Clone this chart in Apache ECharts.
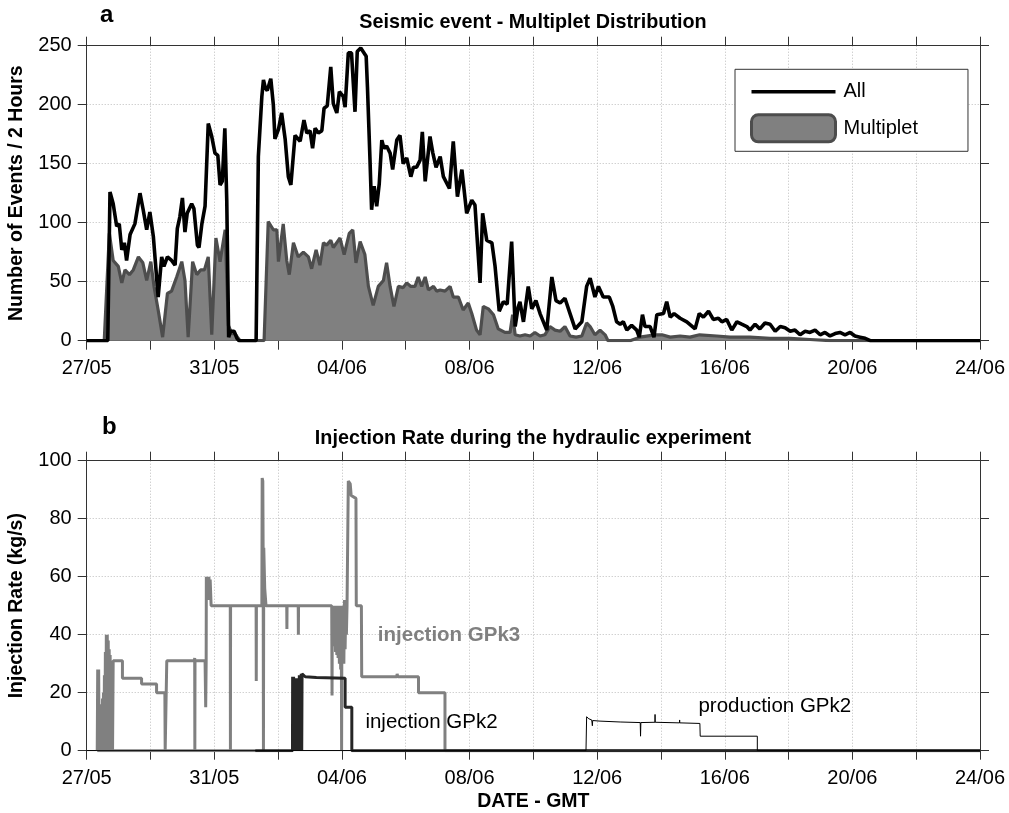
<!DOCTYPE html>
<html>
<head>
<meta charset="utf-8">
<script src="https://cdn.jsdelivr.net/npm/echarts@6/dist/echarts.min.js"></script>
<style>
  html, body { margin: 0; padding: 0; background: #fff; }
  #chart { width: 1009px; height: 813px; }
</style>
</head>
<body>
<div id="chart"></div>
<script>
// Time is expressed in days since 27/05 00:00 GMT.
const dateTicks = ['27/05', '31/05', '04/06', '08/06', '12/06', '16/06', '20/06', '24/06'];

// Panel a: number of events per 2-hour bin, all events
const allEvents = [
  [0, 0], [0.66, 0], [0.68, 0], [0.73, 126], [0.83, 116], [0.94, 97], [1.02, 99], [1.10, 77],
  [1.18, 83], [1.25, 68], [1.36, 90], [1.51, 99], [1.67, 125], [1.77, 111], [1.88, 94],
  [1.98, 109], [2.09, 88], [2.24, 37], [2.35, 71], [2.42, 63], [2.53, 71], [2.66, 68],
  [2.77, 64], [2.84, 95], [2.92, 105], [3.00, 121], [3.08, 92], [3.15, 108], [3.29, 116],
  [3.36, 112], [3.47, 81], [3.52, 79], [3.61, 99], [3.71, 114], [3.81, 184], [3.92, 173],
  [4.02, 159], [4.11, 157], [4.18, 132], [4.25, 135], [4.33, 180], [4.39, 119], [4.45, 3],
  [4.51, 8], [4.62, 8], [4.71, 2], [4.77, 0], [5.31, 0], [5.38, 156], [5.49, 207],
  [5.54, 221], [5.60, 214], [5.66, 212], [5.77, 222], [5.85, 200], [5.90, 171], [6.01, 179],
  [6.11, 193], [6.22, 171], [6.32, 139], [6.40, 132], [6.53, 174], [6.69, 169], [6.81, 187],
  [6.90, 176], [7.00, 178], [7.08, 163], [7.16, 180], [7.26, 176], [7.37, 178], [7.44, 197],
  [7.54, 199], [7.65, 232], [7.73, 201], [7.84, 193], [7.92, 211], [8.04, 207], [8.10, 198],
  [8.20, 244], [8.30, 244], [8.41, 194], [8.48, 245], [8.59, 248], [8.76, 241], [8.80, 215],
  [8.88, 153], [8.93, 111], [9.01, 131], [9.09, 114], [9.17, 133], [9.25, 170], [9.32, 163],
  [9.40, 165], [9.51, 159], [9.59, 145], [9.72, 170], [9.82, 174], [9.92, 150], [10.03, 155],
  [10.16, 139], [10.24, 147], [10.34, 147], [10.45, 153], [10.52, 177], [10.61, 135],
  [10.76, 173], [10.85, 159], [10.95, 147], [11.08, 156], [11.18, 139], [11.37, 129],
  [11.49, 169], [11.62, 122], [11.76, 145], [11.91, 108], [12.07, 119], [12.17, 115],
  [12.33, 49], [12.41, 108], [12.54, 85], [12.70, 83], [12.80, 63], [12.93, 25], [13.06, 33],
  [13.18, 31], [13.32, 84], [13.43, 12], [13.52, 28], [13.58, 33], [13.69, 16], [13.84, 46],
  [13.95, 27], [14.08, 34], [14.21, 23], [14.42, 9], [14.58, 54], [14.71, 34], [14.84, 32],
  [14.99, 36], [15.15, 23], [15.31, 10], [15.52, 16], [15.67, 46], [15.78, 53], [15.93, 37],
  [16.04, 46], [16.19, 37], [16.38, 37], [16.49, 29], [16.61, 16], [16.72, 14], [16.82, 16],
  [16.93, 9], [17.08, 13], [17.24, 9], [17.32, 3], [17.42, 22], [17.50, 12], [17.66, 12],
  [17.78, 3], [17.87, 22], [18.08, 23], [18.18, 33], [18.29, 20], [18.41, 23], [18.60, 19],
  [18.81, 16], [19.07, 10], [19.20, 23], [19.33, 20], [19.49, 25], [19.64, 18], [19.80, 19],
  [19.91, 16], [20.06, 18], [20.22, 9], [20.38, 16], [20.53, 14], [20.69, 12], [20.79, 9],
  [20.95, 14], [21.10, 10], [21.26, 15], [21.42, 14], [21.58, 8], [21.74, 12], [21.89, 11],
  [22.05, 8], [22.20, 9], [22.36, 5], [22.52, 8], [22.67, 7], [22.83, 9], [22.99, 5],
  [23.14, 7], [23.30, 4], [23.46, 6], [23.61, 7], [23.77, 5], [23.93, 7], [24.08, 4],
  [24.24, 3], [24.40, 2], [24.56, 0], [28, 0]
];

// Panel a: events belonging to multiplets
const multipletEvents = [
  [0.55, 0], [0.71, 91], [0.83, 68], [0.99, 63], [1.10, 49], [1.20, 60], [1.34, 56],
  [1.46, 60], [1.62, 71], [1.76, 66], [1.88, 51], [2.01, 67], [2.11, 46], [2.24, 26],
  [2.38, 3], [2.53, 40], [2.66, 42], [2.82, 54], [2.98, 67], [3.08, 51], [3.18, 3],
  [3.32, 67], [3.45, 56], [3.57, 60], [3.69, 60], [3.81, 71], [3.92, 5], [4.05, 87],
  [4.18, 67], [4.34, 94], [4.44, 13], [4.55, 6], [4.65, 6], [4.75, 2], [4.81, 0],
  [5.56, 0], [5.69, 101], [5.85, 94], [5.96, 94], [6.01, 67], [6.16, 99], [6.27, 68],
  [6.35, 56], [6.48, 83], [6.63, 71], [6.79, 75], [6.95, 71], [7.05, 61], [7.19, 77],
  [7.31, 64], [7.42, 83], [7.52, 81], [7.65, 85], [7.73, 79], [7.86, 84], [7.94, 87],
  [8.07, 73], [8.23, 91], [8.34, 94], [8.44, 66], [8.57, 84], [8.72, 73], [8.83, 46],
  [8.98, 30], [9.14, 46], [9.30, 51], [9.40, 66], [9.51, 46], [9.63, 29], [9.77, 46],
  [9.92, 45], [10.03, 49], [10.16, 46], [10.29, 46], [10.39, 54], [10.50, 46], [10.61, 54],
  [10.71, 43], [10.87, 46], [10.97, 42], [11.08, 43], [11.23, 42], [11.39, 46], [11.49, 37],
  [11.65, 37], [11.80, 26], [11.96, 32], [12.07, 23], [12.22, 9], [12.33, 5], [12.43, 29],
  [12.59, 27], [12.75, 22], [12.90, 10], [12.96, 9], [13.11, 7], [13.27, 7], [13.35, 22],
  [13.43, 5], [13.58, 4], [13.74, 5], [13.90, 4], [14.05, 7], [14.21, 4], [14.36, 5],
  [14.52, 12], [14.68, 9], [14.84, 8], [14.99, 12], [15.15, 4], [15.34, 3], [15.52, 4],
  [15.67, 15], [15.78, 12], [15.93, 5], [16.09, 9], [16.25, 5], [16.34, 0], [17.03, 0],
  [17.34, 3], [17.81, 5], [18.03, 5], [18.29, 3], [18.60, 4], [18.91, 3], [19.21, 5],
  [19.75, 4], [20.17, 3], [20.79, 3], [21.42, 2], [22.05, 2], [22.67, 1], [23.30, 0], [28, 0]
];

// Panel b: injection rate in GPK3 (kg/s); the null entry ends the idle baseline segment
const gpk3Rate = [
  [0.33, 0], [5.28, 0], [5.28, null],
  [0.33, 0], [0.345, 28], [0.36, 0], [0.375, 28], [0.39, 0], [0.405, 13], [0.42, 0],
  [0.435, 14], [0.45, 0], [0.465, 16], [0.48, 0], [0.495, 18], [0.51, 0], [0.525, 20],
  [0.54, 0], [0.555, 26], [0.57, 0], [0.585, 34], [0.60, 0], [0.615, 40], [0.63, 0],
  [0.645, 40], [0.66, 0], [0.675, 38], [0.69, 0], [0.705, 35], [0.72, 0], [0.735, 33],
  [0.75, 0], [0.765, 31], [0.78, 0], [0.795, 31], [0.81, 0], [0.83, 31],
  [1.12, 31], [1.12, 25], [1.72, 25], [1.72, 23], [2.19, 23], [2.19, 20], [2.45, 20],
  [2.46, 0], [2.50, 0], [2.51, 31], [3.38, 31], [3.385, 32], [3.39, 0], [3.395, 31],
  [3.71, 31], [3.73, 15], [3.745, 31], [3.75, 60], [3.77, 52], [3.79, 60], [3.81, 52],
  [3.83, 60], [3.85, 55], [3.87, 59], [3.90, 50], [4.50, 50], [4.505, 0], [4.51, 50],
  [5.31, 50], [5.315, 24], [5.32, 50], [5.49, 50], [5.50, 94], [5.52, 93], [5.53, 70],
  [5.54, 0], [5.55, 70], [5.58, 56], [5.62, 50], [6.27, 50], [6.275, 42], [6.28, 50],
  [6.63, 50], [6.635, 40], [6.64, 50],
  [7.68, 50], [7.69, 19], [7.70, 50], [7.72, 38], [7.74, 50], [7.76, 36], [7.78, 50],
  [7.80, 34], [7.82, 50], [7.84, 33], [7.86, 50], [7.88, 32], [7.90, 50], [7.92, 30],
  [7.94, 50], [7.96, 28], [7.98, 50], [7.99, 0], [8.00, 50], [8.02, 34], [8.04, 50],
  [8.06, 30], [8.08, 52], [8.10, 35], [8.12, 50], [8.14, 40], [8.16, 50],
  [8.19, 50], [8.20, 93], [8.26, 92], [8.29, 88], [8.44, 87], [8.45, 50], [8.61, 50],
  [8.62, 25.5], [9.72, 25.5], [9.73, 26.5], [9.75, 25.5], [10.40, 25.5], [10.40, 20],
  [11.23, 20], [11.23, 0], [28, 0]
];

// Panel b: injection rate in GPK2 (kg/s)
const gpk2Rate = [
  [5.28, 0], [6.45, 0], [6.455, 25.5], [6.47, 0], [6.485, 25.5], [6.50, 0], [6.515, 25],
  [6.53, 2], [6.545, 25], [6.56, 0], [6.575, 22], [6.59, 5], [6.605, 25], [6.62, 0],
  [6.635, 25], [6.65, 0], [6.665, 26], [6.68, 0], [6.695, 26], [6.71, 0], [6.725, 26.5],
  [6.74, 0], [6.75, 26.5], [6.80, 26.5], [6.85, 25.5], [7.20, 25.2], [8.10, 25],
  [8.10, 15], [8.31, 15], [8.31, 0], [28, 0]
];

// Panel b: production rate from GPK2 (kg/s)
const gpk2Production = [
  [0, 0], [15.65, 0], [15.67, 11.7], [15.74, 11], [15.83, 10.6], [15.85, 8.6], [15.86, 10.4],
  [16.09, 10.2], [16.72, 9.9], [17.35, 9.7], [17.36, 5], [17.37, 9.7], [17.81, 9.8],
  [17.815, 12.5], [17.82, 9.8], [18.58, 9.6], [18.585, 10.6], [18.59, 9.6], [19.22, 9.4],
  [19.23, 5], [21.02, 5], [21.02, 0], [28, 0]
];

// Annotation anchors [day, rate]
const gpk3LabelAt = [9.11, 39.9];
const gpk2LabelAt = [8.72, 9.9];
const productionLabelAt = [19.16, 15.3];

const FONT = "'Liberation Sans', Arial, Helvetica, sans-serif";
const AXIS_COLOR = '#333';
const TICK_FONT = 20;

function dateLabel(v) {
  return v % 4 === 0 ? dateTicks[v / 4] : '';
}

function xAxisFor(grid, position, withLabels, extra) {
  return Object.assign({
    type: 'value', gridIndex: grid, position: position,
    min: 0, max: 28, interval: 2,
    axisLine: { show: true, onZero: false, lineStyle: { color: AXIS_COLOR, width: 1 } },
    axisTick: { show: true, length: 9, lineStyle: { color: AXIS_COLOR } },
    axisLabel: {
      show: withLabels, formatter: dateLabel, margin: 18,
      fontSize: TICK_FONT, color: '#000', fontFamily: FONT
    },
    splitLine: {
      show: withLabels,
      lineStyle: { type: [1, 2], color: '#bdbdbd', width: 1 }
    }
  }, extra || {});
}

function yAxisFor(grid, position, max, step, withLabels, extra) {
  return Object.assign({
    type: 'value', gridIndex: grid, position: position,
    min: 0, max: max, interval: step,
    axisLine: { show: true, onZero: false, lineStyle: { color: AXIS_COLOR, width: 1 } },
    axisTick: { show: true, length: 9, lineStyle: { color: AXIS_COLOR } },
    axisLabel: {
      show: withLabels, margin: 15, fontSize: TICK_FONT, color: '#000', fontFamily: FONT
    },
    splitLine: {
      show: withLabels,
      lineStyle: { type: [1, 2], color: '#bdbdbd', width: 1 }
    }
  }, extra || {});
}

const yNameStyle = { fontSize: 19.5, fontWeight: 'bold', color: '#000', fontFamily: FONT };
const xNameStyle = { fontSize: 19.5, fontWeight: 'bold', color: '#000', fontFamily: FONT };
const titleStyle = { fontSize: 19.8, fontWeight: 'bold', color: '#000', fontFamily: FONT };
const panelLetterStyle = { fontSize: 24, fontWeight: 'bold', color: '#000', fontFamily: FONT };

function textMark(at, text, style) {
  return {
    symbol: 'rect', symbolSize: 1, silent: true,
    itemStyle: { color: 'transparent' },
    label: Object.assign({
      show: true, position: 'right', distance: 0,
      formatter: text, fontFamily: FONT, fontSize: 20.5
    }, style),
    data: [{ coord: at }]
  };
}

const chart = echarts.init(document.getElementById('chart'), null, { renderer: 'canvas' });

chart.setOption({
  animation: false,
  backgroundColor: '#fff',
  title: [
    { text: 'a', left: 100, top: 3, padding: 0, textStyle: panelLetterStyle },
    { text: 'Seismic event - Multiplet Distribution', left: 533, top: 13, padding: 0,
      textAlign: 'center', textStyle: titleStyle },
    { text: 'b', left: 102, top: 415, padding: 0, textStyle: panelLetterStyle },
    { text: 'Injection Rate during the hydraulic experiment', left: 533, top: 429, padding: 0,
      textAlign: 'center', textStyle: titleStyle }
  ],
  legend: {
    orient: 'vertical',
    left: 735, top: 69.3,
    padding: [12.5, 50, 8, 15],
    itemWidth: 84, itemHeight: 27, itemGap: 11.5,
    backgroundColor: '#fff',
    borderColor: '#333', borderWidth: 1, borderRadius: 0,
    selectedMode: false,
    textStyle: { fontSize: 20, color: '#000', fontFamily: FONT, padding: [0, 0, 0, 3] },
    data: [
      { name: 'All', icon: 'path://M0,0 H84 V3.4 H0 Z',
        itemStyle: { color: '#000', borderWidth: 0 } },
      { name: 'Multiplet', icon: 'roundRect',
        itemStyle: { color: '#808080', borderColor: '#4d4d4d', borderWidth: 3 } }
    ]
  },
  grid: [
    { left: 86.7, top: 45.7, width: 893.3, height: 295, containLabel: false, outerBoundsMode: 'none' },
    { left: 86.7, top: 460.7, width: 893.3, height: 290, containLabel: false, outerBoundsMode: 'none' }
  ],
  xAxis: [
    xAxisFor(0, 'bottom', true),
    xAxisFor(0, 'top', false),
    xAxisFor(1, 'bottom', true, {
      name: 'DATE - GMT', nameLocation: 'middle', nameGap: 41, nameTextStyle: xNameStyle
    }),
    xAxisFor(1, 'top', false)
  ],
  yAxis: [
    yAxisFor(0, 'left', 250, 50, true, {
      name: 'Number of Events / 2 Hours', nameLocation: 'middle', nameGap: 60, nameTextStyle: yNameStyle
    }),
    yAxisFor(0, 'right', 250, 50, false),
    yAxisFor(1, 'left', 100, 20, true, {
      name: 'Injection Rate (kg/s)', nameLocation: 'middle', nameGap: 60, nameTextStyle: yNameStyle
    }),
    yAxisFor(1, 'right', 100, 20, false)
  ],
  series: [
    {
      name: 'Multiplet', type: 'line', xAxisIndex: 0, yAxisIndex: 0,
      data: multipletEvents, symbol: 'none', z: 2,
      lineStyle: { color: '#4d4d4d', width: 3.2 },
      itemStyle: { color: '#808080' },
      areaStyle: { color: '#808080', opacity: 1 }
    },
    {
      name: 'All', type: 'line', xAxisIndex: 0, yAxisIndex: 0,
      data: allEvents, symbol: 'none', z: 3,
      lineStyle: { color: '#000', width: 3.6 },
      itemStyle: { color: '#000' }
    },
    {
      name: 'injection GPk3', type: 'line', xAxisIndex: 2, yAxisIndex: 2,
      data: gpk3Rate, symbol: 'none', connectNulls: false, z: 2,
      lineStyle: { color: '#808080', width: 3 },
      itemStyle: { color: '#808080' },
      markPoint: textMark(gpk3LabelAt, 'injection GPk3', { color: '#808080', fontWeight: 'bold' })
    },
    {
      name: 'injection GPk2', type: 'line', xAxisIndex: 2, yAxisIndex: 2,
      data: gpk2Rate, symbol: 'none', z: 3,
      lineStyle: { color: '#262626', width: 3 },
      itemStyle: { color: '#262626' },
      markPoint: textMark(gpk2LabelAt, 'injection GPk2', { color: '#000' })
    },
    {
      name: 'production GPk2', type: 'line', xAxisIndex: 2, yAxisIndex: 2,
      data: gpk2Production, symbol: 'none', z: 4,
      lineStyle: { color: '#000', width: 1 },
      itemStyle: { color: '#000' },
      markPoint: textMark(productionLabelAt, 'production GPk2', { color: '#000' })
    }
  ]
});
</script>
</body>
</html>
